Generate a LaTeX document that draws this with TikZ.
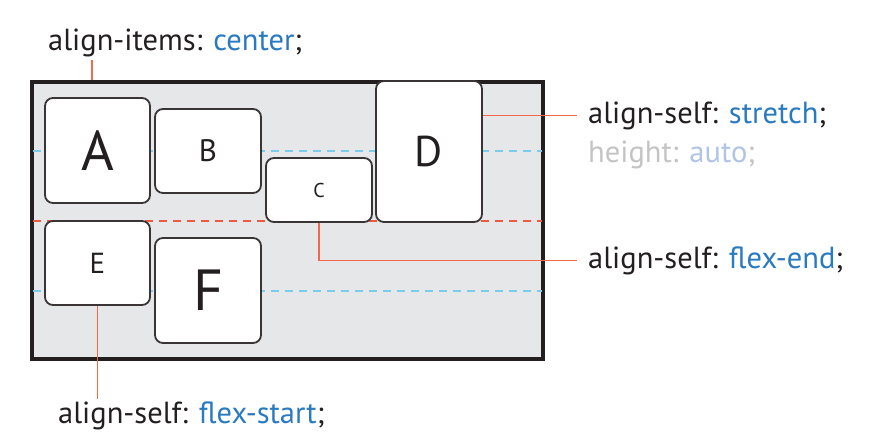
\documentclass[tikz,border=0pt]{standalone}
\usepackage{fontspec}
\setmainfont{PT Sans}
\usetikzlibrary{positioning}
\definecolor{ink}{HTML}{231F20}
\definecolor{cssblue}{HTML}{2A7AC0}
\definecolor{fadegray}{HTML}{C4C4C4}
\definecolor{fadeblue}{HTML}{AFC4E8}
\definecolor{panelgray}{HTML}{E6E7E8}
\definecolor{leadred}{HTML}{F26849}
\definecolor{guidered}{HTML}{EE5A3F}
\definecolor{guideblue}{HTML}{7ACBEC}

\begin{document}
\begin{tikzpicture}[x=1pt, y=-1pt,
  panel/.style={draw=ink, line width=4pt, fill=panelgray, minimum width=511pt, minimum height=277pt, inner sep=0pt},
  item/.style={draw=ink!90, line width=1.8pt, fill=white, rounded corners=8pt, inner sep=0pt, text=ink},
  lead/.style={draw=leadred, line width=1.4pt},
  guide/.style={dash pattern=on 8pt off 6pt, line width=1.2pt},
  css/.style={font=\fontsize{30.5}{34}\selectfont, text=ink, inner sep=0pt, anchor=base west}]
\useasboundingbox (0,0) rectangle (872,437);
\node[panel] (frame) at (287.5,220.5) {};
\foreach \y/\c in {151/guideblue,221/guidered,291/guideblue}
  \draw[guide, \c] ([xshift=3pt]frame.west |- 0,\y) -- ([xshift=-3pt]frame.east |- 0,\y);
\node[item, minimum width=105pt, minimum height=105pt, font=\fontsize{56}{60}\selectfont] (A) at (97.5,150.5) {A};
\node[item, minimum width=106pt, minimum height=84pt, font=\fontsize{31}{34}\selectfont] (B) at (208,151) {B};
\node[item, minimum width=106pt, minimum height=64pt, font=\fontsize{20}{24}\selectfont] (C) at (319,190) {C};
\node[item, minimum width=106pt, minimum height=141pt, font=\fontsize{43}{46}\selectfont] (D) at (429,151.5) {D};
\node[item, minimum width=105pt, minimum height=84pt, font=\fontsize{29}{32}\selectfont] (E) at (97.5,263) {E};
\node[item, minimum width=106pt, minimum height=105pt, font=\fontsize{58}{62}\selectfont] (F) at (208,290.5) {F};
\node[css] (ai) at (48,50) {align-items: \textcolor{cssblue}{center};};
\node[css] (st) at (588,123) {align-self: \textcolor{cssblue}{stretch};};
\node[css, text=fadegray] (ha) at (588,162) {height: \textcolor{fadeblue}{auto};};
\node[css] (fe) at (588,268) {align-self: \textcolor{cssblue}{flex-end};};
\node[css] (fs) at (58,423) {align-self: \textcolor{cssblue}{flex-start};};
\draw[lead, shorten <=3pt] ([xshift=44pt]ai.south west) -- ([xshift=44pt]ai.south west |- frame.north);
\draw[lead, shorten >=11pt] (D.east |- st.west) -- (st.west);
\draw[lead, shorten >=11pt] (C.south) -- (C.south |- fe.west) -- (fe.west);
\draw[lead, shorten >=2pt] (E.south) -- (E.south |- fs.north);
\end{tikzpicture}
\end{document}
